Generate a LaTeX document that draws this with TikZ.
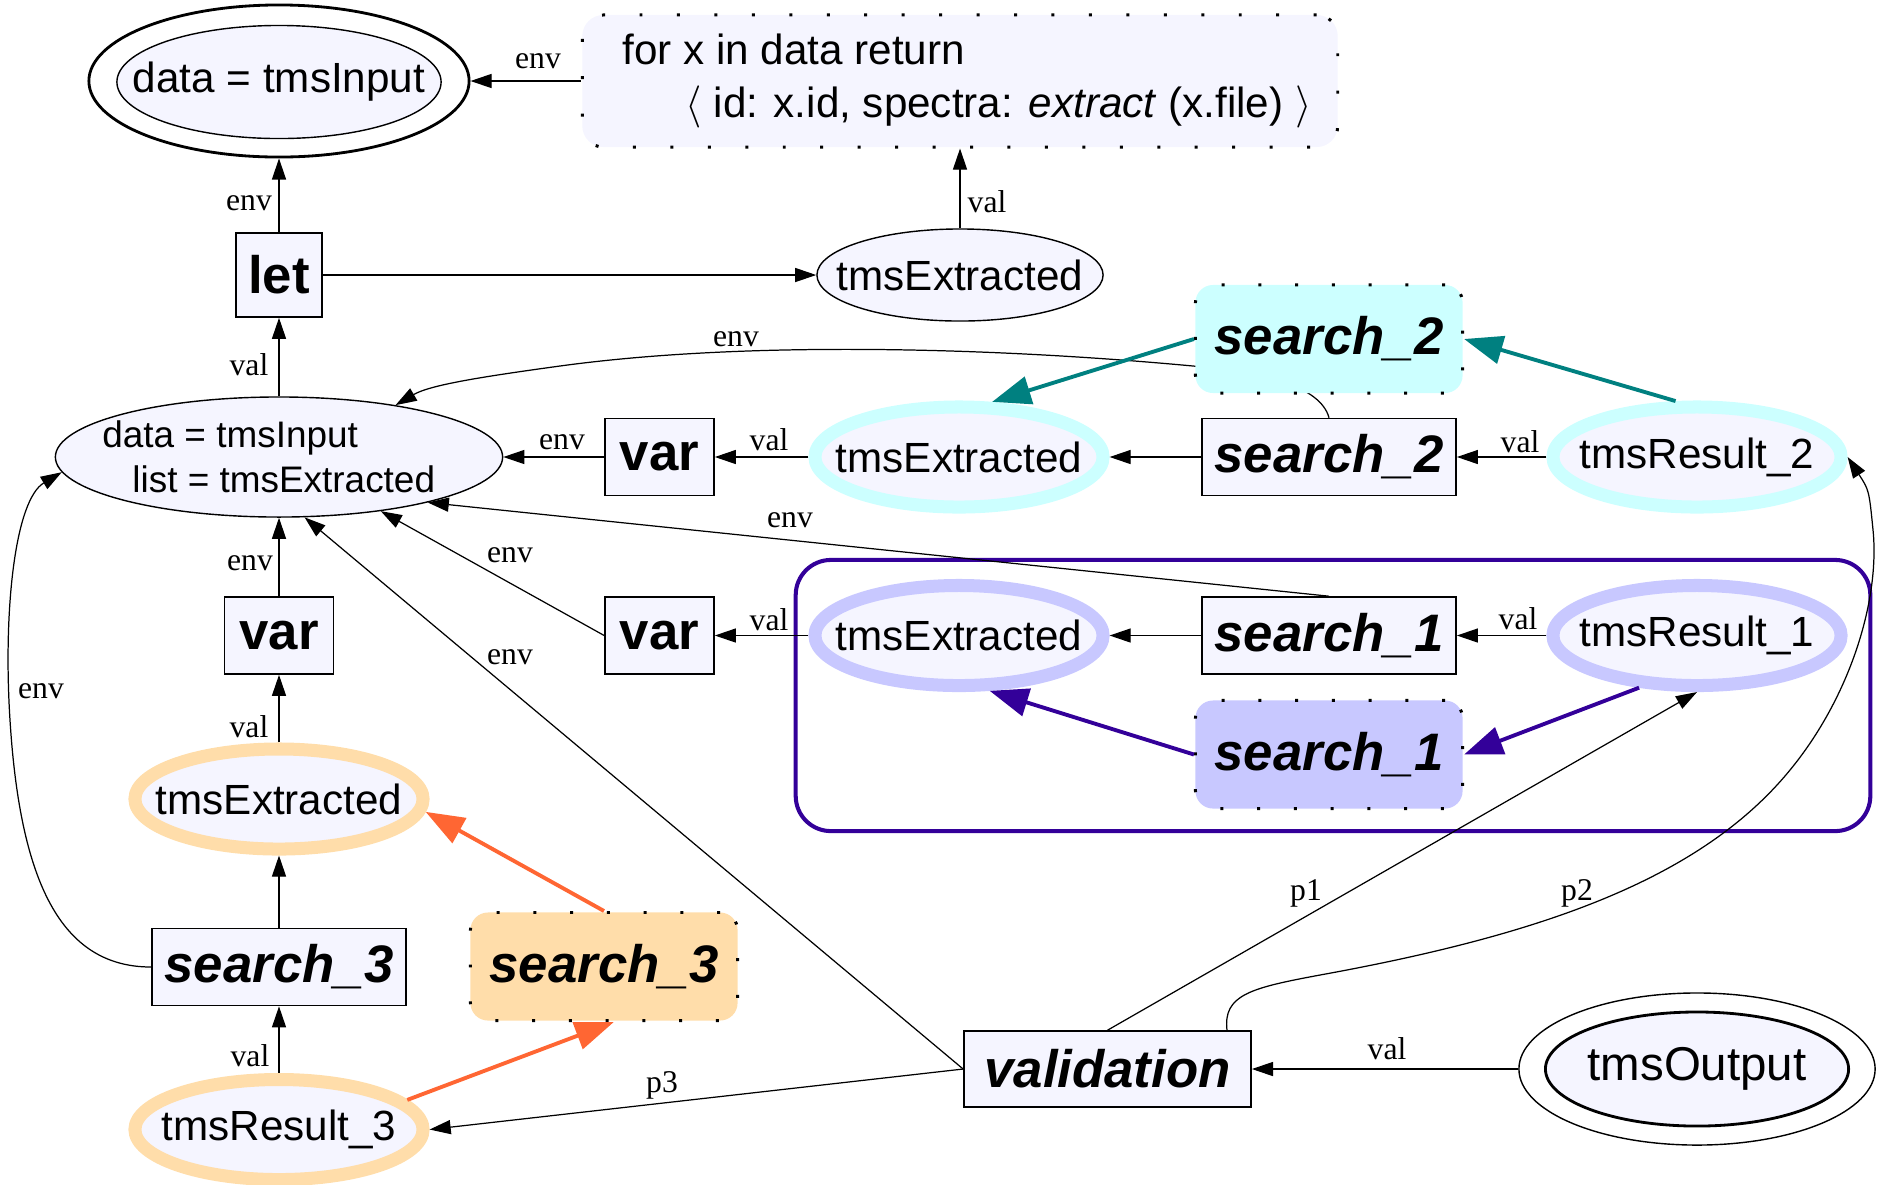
\documentclass[tikz,border=0pt]{standalone}
\usepackage{fontspec}
\setmainfont{Liberation Serif}
\newfontfamily\sansfont{Liberation Sans}
\usetikzlibrary{arrows.meta}
\usetikzlibrary{shapes.geometric}
\definecolor{nodefill}{RGB}{245,245,255}
\definecolor{cyanhl}{RGB}{204,255,255}
\definecolor{tealhl}{RGB}{0,128,128}
\definecolor{bluehl}{RGB}{200,200,255}
\definecolor{indigohl}{RGB}{51,0,153}
\definecolor{orangehl}{RGB}{255,221,170}
\definecolor{orangearr}{RGB}{255,102,51}
\newcommand{\ellnode}[4] % style, name, position, text
{
	% the text gets no width, so the ellipse keeps its given size
	\node[#1] (#2) at (#3) {\makebox[0pt]{#4}};
}
\tikzset{
	box/.style={draw, fill=nodefill, line width=0.45pt, inner sep=0pt, font=\sansfont\fontsize{15}{18}\selectfont\bfseries},
	varbox/.style={box, minimum width=1.09cm, minimum height=0.77cm},
	fnbox/.style={box, font=\sansfont\fontsize{15}{18}\selectfont\bfseries\itshape, minimum width=2.54cm, minimum height=0.77cm},
	hlbox/.style={fnbox, fill=#1, rounded corners=5pt, dash pattern=on 0.85pt off 9.6pt, line width=0.85pt, minimum width=2.67cm, minimum height=1.08cm},
	exprbox/.style={draw, fill=nodefill, rounded corners=6pt, dash pattern=on 0.85pt off 9.8pt, line width=0.85pt, inner sep=0pt, minimum width=7.55cm, minimum height=1.32cm, align=left, font=\sansfont\fontsize{12}{15}\selectfont},
	ell/.style={ellipse, draw, fill=nodefill, line width=0.4pt, inner sep=0pt, font=\sansfont\fontsize{12}{14}\selectfont},
	ring/.style={ell, draw=#1, line width=3.7pt, minimum width=2.88cm, minimum height=1cm},
	groupbox/.style={draw=indigohl, line width=1.15pt, rounded corners=10pt},
	link/.style={-{Triangle[length=6pt,width=4pt]}, line width=0.35pt},
	hlarrow/.style={-{Triangle[length=11pt,width=8pt]}, line width=1.1pt},
	lbl/.style={font=\fontsize{9}{10}\selectfont, inner sep=0pt}
}
\begin{document}
\begin{tikzpicture}[x=0.01cm, y=-0.01cm]
	% 1 unit = 0.1mm, y grows downwards
	\useasboundingbox (0,0) rectangle (1877,1184);
	
	% cluster of search_1
	\node[groupbox, minimum width=10.74cm, minimum height=2.71cm] (group1) at (1333,695.5) {};
	
	% top row
	\node[ellipse, draw, line width=0.8pt, minimum width=3.8cm, minimum height=1.52cm] (input) at (279,81) {};
	\ellnode{ell, minimum width=3.24cm, minimum height=1.13cm}{inputCore}{279,82}{data = tmsInput}
	\node[exprbox] (forExpr) at (960,81) {\hspace*{0.14cm}for x in data return\\\hspace*{0.77cm}$\langle$ id: x.id, spectra: \textit{extract} (x.file) $\rangle$};
	
	\node[box, minimum width=0.86cm, minimum height=0.84cm] (letOp) at (279,275) {let};
	\ellnode{ell, minimum width=2.86cm, minimum height=0.92cm}{extTop}{960,275}{tmsExtracted}
	
	% bindings
	\ellnode{ell, minimum width=4.47cm, minimum height=1.2cm, font=\sansfont\fontsize{10.5}{12.8}\selectfont}{bindings}{279,457}{\parbox{3.53cm}{data = tmsInput\\\hspace*{0.3cm}list = tmsExtracted}}
	\node[varbox] (var1) at (659.5,457) {var};
	\ellnode{ring=cyanhl}{ext2}{959,457}{tmsExtracted}
	\node[fnbox] (search2) at (1329,457) {search\_2};
	\ellnode{ring=cyanhl}{res2}{1697,457}{tmsResult\_2}
	
	\node[varbox] (var2) at (279,635.5) {var};
	\node[varbox] (var3) at (659.5,635.5) {var};
	\ellnode{ring=bluehl}{ext1}{959,635.5}{tmsExtracted}
	\node[fnbox] (search1) at (1329,635.5) {search\_1};
	\ellnode{ring=bluehl}{res1}{1697,635.5}{tmsResult\_1}
	
	% bottom part
	\ellnode{ring=orangehl}{ext3}{279,799}{tmsExtracted}
	\node[fnbox] (search3) at (279,967) {search\_3};
	\ellnode{ring=orangehl}{res3}{279,1129.5}{tmsResult\_3}
	\node[fnbox, minimum width=2.87cm, minimum height=0.76cm] (validation) at (1107.5,1069) {validation};
	\node[ellipse, draw, line width=0.4pt, minimum width=3.56cm, minimum height=1.52cm] (output) at (1697,1069) {};
	\ellnode{ell, line width=0.8pt, minimum width=3.03cm, minimum height=1.14cm, font=\sansfont\fontsize{13.5}{16}\selectfont}{outputCore}{1697,1069}{tmsOutput}
	
	% plain edges
	\draw[link] (forExpr) -- (input);
	\draw[link] (letOp) -- (input);
	\draw[link] (letOp) -- (extTop);
	\draw[link] (extTop) -- (forExpr);
	\draw[link] (bindings) -- (letOp);
	\draw[link] (search2.north) .. controls (1320,385) and (1260,372) .. (1193,366)
		.. controls (1000,348) and (750,340) .. (560,366)
		.. controls (480,377) and (430,385) .. (bindings.24);
	\draw[link] (var1) -- (bindings);
	\draw[link] (ext2) -- (var1);
	\draw[link] (search2) -- (ext2);
	\draw[link] (res2) -- (search2);
	\draw[link] (search1.north) -- (bindings.-17);
	\draw[link] (var3.west) -- (bindings.-28);
	\draw[link] (ext1) -- (var3);
	\draw[link] (search1) -- (ext1);
	\draw[link] (res1) -- (search1);
	\draw[link] (var2) -- (bindings);
	\draw[link] (ext3) -- (var2);
	\draw[link] (search3) -- (ext3);
	\draw[link] (res3) -- (search3);
	\draw[link] (search3.west) .. controls (60,967) and (20,880) .. (10,720)
		.. controls (3,610) and (15,500) .. (bindings.184);
	\draw[link] (validation.west) -- (bindings.-67);
	\draw[link] (validation.west) -- (res3.east);
	\draw[link] (validation.north) -- (res1.south);
	\draw[link] (validation.18) .. controls (1223,995) and (1250,988) .. (1320,975)
		.. controls (1540,935) and (1700,880) .. (1790,770)
		.. controls (1850,697) and (1880,600) .. (1873,530)
		.. controls (1869,490) .. (res2.east);
	\draw[link] (output) -- (validation);
	
	% highlighted searches
	\node[hlbox=cyanhl] (search2hl) at (1329,339) {search\_2};
	\node[hlbox=bluehl] (search1hl) at (1329,754.5) {search\_1};
	\node[hlbox=orangehl] (search3hl) at (604,966.5) {search\_3};
	\draw[hlarrow, tealhl] (search2hl.west) -- (ext2.59);
	\draw[hlarrow, tealhl] (res2.111) -- (search2hl.east);
	\draw[hlarrow, indigohl] (search1hl.west) -- (ext1.-61);
	\draw[hlarrow, indigohl] (res1.-138) -- (search1hl.east);
	\draw[hlarrow, orangearr] (search3hl.north) -- (ext3.-5);
	\draw[hlarrow, orangearr] (res3.13) -- (search3hl.-80);
	
	% edge labels
	\node[lbl] (lbFor) at (538,61) {env};
	\node[lbl] (lbLet) at (249,203) {env};
	\node[lbl] (lbBind) at (249,365) {val};
	\node[lbl] (lbTop) at (987,202) {val};
	\node[lbl] (lbS2) at (736,339) {env};
	\node[lbl] (lbVar1) at (562,442) {env};
	\node[lbl] (lbExt2) at (769,440) {val};
	\node[lbl] (lbRes2) at (1520,442) {val};
	\node[lbl] (lbS1) at (790,520) {env};
	\node[lbl] (lbVar2) at (250,563) {env};
	\node[lbl] (lbVar3) at (510,555) {env};
	\node[lbl] (lbExt1) at (769,620) {val};
	\node[lbl] (lbRes1) at (1518,619) {val};
	\node[lbl] (lbValEnv) at (510,657) {env};
	\node[lbl] (lbS3) at (41,691) {env};
	\node[lbl] (lbExt3) at (249,727) {val};
	\node[lbl] (lbRes3) at (250,1056) {val};
	\node[lbl] (lbP3) at (662,1085) {p3};
	\node[lbl] (lbP1) at (1306,893) {p1};
	\node[lbl] (lbP2) at (1577,893) {p2};
	\node[lbl] (lbOut) at (1387,1049) {val};
	
\end{tikzpicture}
\end{document}
